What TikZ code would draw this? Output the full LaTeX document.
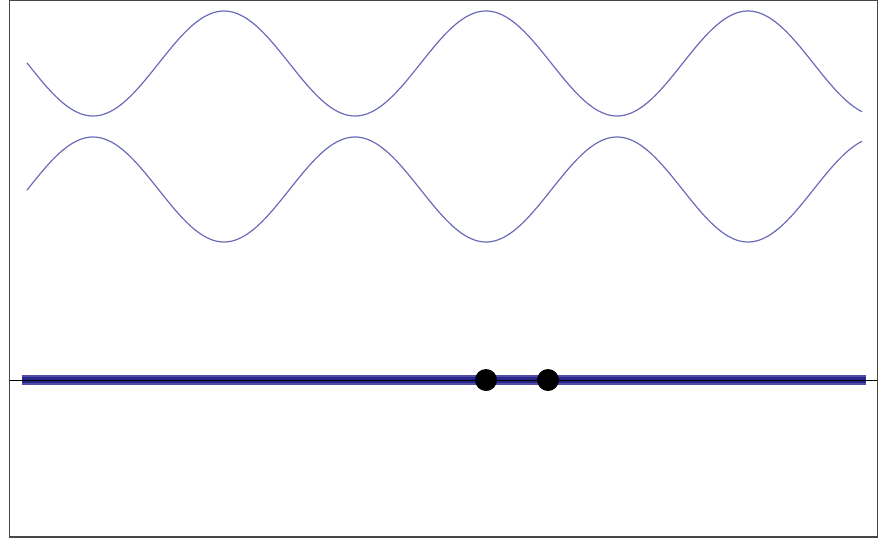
\documentclass[tikz,border=0pt]{standalone}
\definecolor{wavec}{RGB}{106,106,184}
\definecolor{bandout}{RGB}{80,80,170}
\definecolor{bandin}{RGB}{40,40,140}
\definecolor{framec}{RGB}{70,70,70}
\tikzset{
  wave/.style={draw=wavec, line width=1.2pt},
  dotnode/.style={circle, fill=black, inner sep=0pt, minimum size=22pt},
}
\begin{document}
\begin{tikzpicture}[x=1pt,y=-1pt]
\useasboundingbox (0,0) rectangle (885,538);
\draw[framec, line width=1.2pt] (9.6,0.6) rectangle (877.4,536.9);
\draw[wave] plot[domain=27:862, samples=300, smooth] (\x, {63.5-52.5*cos((\x-224)/262*360)});
\draw[wave] plot[domain=27:862, samples=300, smooth] (\x, {189.5+52.5*cos((\x-224)/262*360)});
\coordinate (axl) at (9.6,380);
\coordinate (axr) at (877.4,380);
\coordinate (bl) at (22,380);
\coordinate (br) at (866,380);
\draw[bandout, line width=10pt] (bl) -- (br);
\draw[bandin, line width=6pt] (bl) -- (br);
\draw[black, line width=1pt] (axl) -- (axr);
\node[dotnode] (d1) at (486,380) {};
\node[dotnode] (d2) at (548,380) {};
\end{tikzpicture}
\end{document}
